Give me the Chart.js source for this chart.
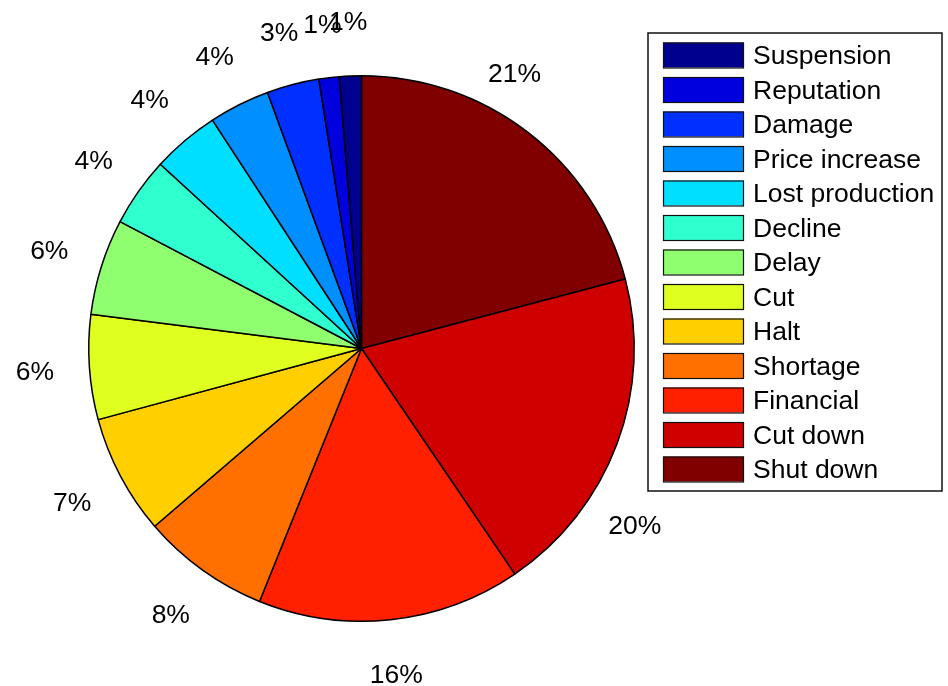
<!DOCTYPE html>
<html>
<head>
<meta charset="utf-8">
<title>Consequences</title>
<script src="https://cdn.jsdelivr.net/npm/chart.js@4.4.1/dist/chart.umd.min.js"></script>
<style>
  html, body { margin: 0; padding: 0; background: #fff; }
  #wrap { width: 948px; height: 686px; position: relative; }
</style>
</head>
<body>
<div id="wrap"><canvas id="pieChart"></canvas></div>
<script>
// categories in legend order, laid out counter-clockwise from 12 o'clock
const categories = ['Suspension', 'Reputation', 'Damage', 'Price increase', 'Lost production',
    'Decline', 'Delay', 'Cut', 'Halt', 'Shortage', 'Financial', 'Cut down', 'Shut down'];
const shares = [1.3, 1.2, 3.1, 3.6, 4.0, 4.1, 5.7, 6.2, 7.1, 7.6, 15.6, 19.6, 20.9];
// jet colormap, one colour per category
const sliceColors = ['#00008f', '#0000df', '#0030ff', '#008fff', '#00dfff', '#30ffcf',
    '#8fff70', '#dfff20', '#ffcf00', '#ff7000', '#ff2000', '#cf0000', '#800000'];

const FONT = '26.5px "Liberation Sans", Arial, Helvetica, sans-serif';

// a couple of percent labels were pulled off the mid-angle to keep clear of the legend
const labelNudge = {
    'Shut down': { turn: -8.6, dist: 1.157 },
    'Cut down': { turn: 12.4, dist: 1.194 }
};

// Chart.js sweeps clockwise, so feed the slices reversed to get the counter-clockwise layout
const pieLabels = categories.slice().reverse();
const pieData = shares.slice().reverse();
const pieColors = sliceColors.slice().reverse();

const pctLabels = {
    id: 'pctLabels',
    afterDatasetsDraw(chart) {
        const ctx = chart.ctx;
        const ds = chart.data.datasets[0];
        const total = ds.data.reduce((a, b) => a + b, 0);
        const arcs = chart.getDatasetMeta(0).data;
        ctx.save();
        ctx.font = FONT;
        ctx.fillStyle = '#000';
        ctx.textAlign = 'center';
        ctx.textBaseline = 'alphabetic';
        arcs.forEach((arc, i) => {
            const nudge = labelNudge[chart.data.labels[i]] || { turn: 0, dist: 1.2 };
            const mid = (arc.startAngle + arc.endAngle) / 2 + nudge.turn * Math.PI / 180;
            const r = arc.outerRadius * nudge.dist;
            const x = arc.x + Math.cos(mid) * r;
            const y = arc.y + Math.sin(mid) * r;
            ctx.fillText(Math.round(ds.data[i] / total * 100) + '%', x, y + 9);
        });
        ctx.restore();
    }
};

// boxed legend on the right, listed in the original category order
const boxLegend = {
    id: 'boxLegend',
    afterDraw(chart) {
        const ctx = chart.ctx;
        const ds = chart.data.datasets[0];
        const n = chart.data.labels.length;
        ctx.save();
        ctx.fillStyle = '#fff';
        ctx.fillRect(648, 33, 294, 458);
        ctx.lineWidth = 1.5;
        ctx.strokeStyle = '#111';
        ctx.strokeRect(648, 33, 294, 458);
        ctx.font = FONT;
        ctx.textAlign = 'left';
        ctx.textBaseline = 'alphabetic';
        for (let k = 0; k < n; k++) {
            const i = n - 1 - k;
            const cy = 55 + k * 34.5;
            ctx.fillStyle = ds.backgroundColor[i];
            ctx.fillRect(663, cy - 12.5, 81, 25);
            ctx.lineWidth = 1.2;
            ctx.strokeStyle = '#111';
            ctx.strokeRect(663.5, cy - 12, 80, 25);
            ctx.fillStyle = '#000';
            ctx.fillText(chart.data.labels[i], 753, cy + 9);
        }
        ctx.restore();
    }
};

const ctx = document.getElementById('pieChart').getContext('2d');
new Chart(ctx, {
    type: 'pie',
    data: {
        labels: pieLabels,
        datasets: [{
            data: pieData,
            backgroundColor: pieColors,
            borderColor: '#000',
            borderWidth: 1.5,
            hoverBorderWidth: 1.5,
            hoverOffset: 0
        }]
    },
    options: {
        responsive: true,
        maintainAspectRatio: false,
        animation: false,
        rotation: 0,
        layout: {
            padding: { left: 88, right: 313, top: 75, bottom: 64 }
        },
        plugins: {
            legend: { display: false },
            tooltip: { enabled: false }
        }
    },
    plugins: [pctLabels, boxLegend]
});
</script>
</body>
</html>
